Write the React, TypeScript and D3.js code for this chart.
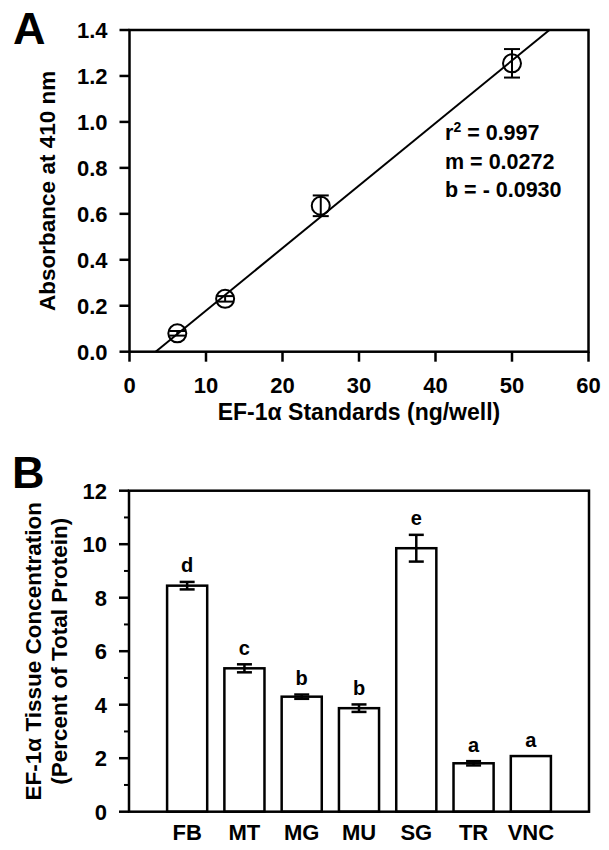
import React from 'react';
import * as d3 from 'd3';

// Panel A: EF-1α standard curve
const stdConc = [6.25, 12.5, 25, 50];
const stdAbs = [0.08, 0.23, 0.635, 1.255];
const stdErr = [0.01, 0.012, 0.045, 0.062];
const fitSlope = 0.0272;
const fitIntercept = -0.093;
const fitR2 = '0.997';
const fitM = '0.0272';
const fitB = '- 0.0930';
const xTicksA = [0, 10, 20, 30, 40, 50, 60];
const yTicksA = [0, 0.2, 0.4, 0.6, 0.8, 1.0, 1.2, 1.4];

// Panel B: tissue concentration
const tissues = ['FB', 'MT', 'MG', 'MU', 'SG', 'TR', 'VNC'];
const tissueConc = [8.45, 5.36, 4.3, 3.87, 9.85, 1.81, 2.08];
const tissueErr = [0.14, 0.15, 0.08, 0.14, 0.5, 0.08, 0];
const sigGroups = ['d', 'c', 'b', 'b', 'e', 'a', 'a'];
const yTicksB = [0, 2, 4, 6, 8, 10, 12];
const yMinorB = [1, 3, 5, 7, 9, 11];

const FONT = '"Liberation Sans", Arial, sans-serif';
const SW = 2.5;

export default function App() {
  // Panel A geometry
  const aL = 129.5, aR = 588.5, aT = 30, aB = 351.7;
  const xA = d3.scaleLinear().domain([0, 60]).range([aL, aR]);
  const yA = d3.scaleLinear().domain([0, 1.4]).range([aB, aT]);
  const x0 = -fitIntercept / fitSlope;
  const x1 = (1.4 - fitIntercept) / fitSlope;
  const fitLine = d3.line<number>()
    .x((d) => xA(d))
    .y((d) => yA(fitSlope * d + fitIntercept))([x0, x1]);

  // Panel B geometry
  const bL = 129, bR = 589, bT = 490.7, bB = 811.7;
  const xB = d3.scaleBand<string>().domain(tissues).range([bL, bR]).paddingInner(0.3).paddingOuter(0.665);
  const yB = d3.scaleLinear().domain([0, 12]).range([bB, bT]);

  const tickFont = { fontFamily: FONT, fontWeight: 700, fontSize: 22, fill: '#000' } as const;

  return (
    <svg width={609} height={850} style={{ position: 'absolute', left: 0, top: 0, background: '#fff' }}>
      <rect x={0} y={0} width={609} height={850} fill="#fff" />
      {/* ---------- Panel A ---------- */}
      <text x={13} y={44} style={{ fontFamily: FONT, fontWeight: 700, fontSize: 45 }}>A</text>
      <rect x={aL} y={aT} width={aR - aL} height={aB - aT} fill="none" stroke="#000" strokeWidth={SW} />
      {yTicksA.map((t) => (
        <g key={'ya' + t}>
          <line x1={aL - 10} x2={aL} y1={yA(t)} y2={yA(t)} stroke="#000" strokeWidth={SW} />
          <text x={aL - 22} y={yA(t) + 7.8} textAnchor="end" style={tickFont}>{t.toFixed(1)}</text>
        </g>
      ))}
      {xTicksA.map((t) => (
        <g key={'xa' + t}>
          <line x1={xA(t)} x2={xA(t)} y1={aB} y2={aB + 10} stroke="#000" strokeWidth={SW} />
          <text x={xA(t)} y={393} textAnchor="middle" style={tickFont}>{t}</text>
        </g>
      ))}
      <text x={xA(30)} y={420} textAnchor="middle" style={{ fontFamily: FONT, fontWeight: 700, fontSize: 23 }}>EF-1α Standards (ng/well)</text>
      <text transform={`translate(55,${(aT + aB) / 2}) rotate(-90)`} textAnchor="middle" style={{ fontFamily: FONT, fontWeight: 700, fontSize: 22.5 }}>Absorbance at 410 nm</text>
      <path d={fitLine || ''} fill="none" stroke="#000" strokeWidth={2} />
      {stdConc.map((c, i) => {
        const cx = xA(c);
        const lo = yA(stdAbs[i] - stdErr[i]);
        const hi = yA(stdAbs[i] + stdErr[i]);
        return (
          <g key={'pt' + i}>
            <line x1={cx} x2={cx} y1={lo} y2={hi} stroke="#000" strokeWidth={2} />
            <line x1={cx - 8} x2={cx + 8} y1={lo} y2={lo} stroke="#000" strokeWidth={2} />
            <line x1={cx - 8} x2={cx + 8} y1={hi} y2={hi} stroke="#000" strokeWidth={2} />
            <circle cx={cx} cy={yA(stdAbs[i])} r={9} fill="none" stroke="#000" strokeWidth={2} />
          </g>
        );
      })}
      <g style={{ fontFamily: FONT, fontWeight: 700, fontSize: 21.5 }}>
        <text x={445} y={140}>r<tspan dy={-8} fontSize={14}>2</tspan><tspan dy={8}> = {fitR2}</tspan></text>
        <text x={445} y={168.5}>m = {fitM}</text>
        <text x={445} y={197}>b = {fitB}</text>
      </g>

      {/* ---------- Panel B ---------- */}
      <text x={12} y={488} style={{ fontFamily: FONT, fontWeight: 700, fontSize: 45 }}>B</text>
      {tissues.map((t, i) => {
        const x = xB(t)!;
        const w = xB.bandwidth();
        const v = tissueConc[i];
        const e = tissueErr[i];
        const cx = x + w / 2;
        const top = yB(v + e);
        return (
          <g key={'bar' + t}>
            <rect x={x} y={yB(v)} width={w} height={bB - yB(v)} fill="#fff" stroke="#000" strokeWidth={SW} />
            {e > 0 && (
              <g>
                <line x1={cx} x2={cx} y1={yB(v - e)} y2={yB(v + e)} stroke="#000" strokeWidth={2.5} />
                <line x1={cx - 7.5} x2={cx + 7.5} y1={yB(v - e)} y2={yB(v - e)} stroke="#000" strokeWidth={2.5} />
                <line x1={cx - 7.5} x2={cx + 7.5} y1={yB(v + e)} y2={yB(v + e)} stroke="#000" strokeWidth={2.5} />
              </g>
            )}
            <text x={cx} y={top - 9.5} textAnchor="middle" style={{ fontFamily: FONT, fontWeight: 700, fontSize: 20 }}>{sigGroups[i]}</text>
            <text x={cx} y={840} textAnchor="middle" style={tickFont}>{t}</text>
          </g>
        );
      })}
      <rect x={bL} y={bT} width={bR - bL} height={bB - bT} fill="none" stroke="#000" strokeWidth={SW} />
      {yTicksB.map((t) => (
        <g key={'yb' + t}>
          <line x1={bL - 10} x2={bL} y1={yB(t)} y2={yB(t)} stroke="#000" strokeWidth={SW} />
          <text x={bL - 22} y={yB(t) + 7.8} textAnchor="end" style={tickFont}>{t}</text>
        </g>
      ))}
      {yMinorB.map((t) => (
        <line key={'ybm' + t} x1={bL - 5} x2={bL} y1={yB(t)} y2={yB(t)} stroke="#000" strokeWidth={2} />
      ))}
      <text transform={`translate(41,${(bT + bB) / 2}) rotate(-90)`} textAnchor="middle" style={{ fontFamily: FONT, fontWeight: 700, fontSize: 22.5 }}>EF-1α Tissue Concentration</text>
      <text transform={`translate(67,${(bT + bB) / 2}) rotate(-90)`} textAnchor="middle" style={{ fontFamily: FONT, fontWeight: 700, fontSize: 22.5 }}>(Percent of Total Protein)</text>
    </svg>
  );
}
